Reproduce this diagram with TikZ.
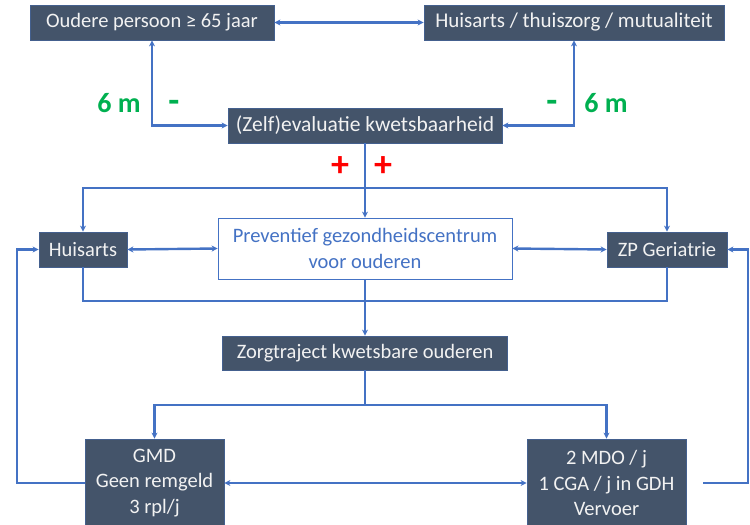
\documentclass[tikz,border=0pt]{standalone}
\usepackage{fontspec}
\setmainfont{Carlito}
\usetikzlibrary{arrows.meta,calc}
\definecolor{boxdark}{HTML}{44546A}
\definecolor{lineblue}{HTML}{4472C4}
\definecolor{grn}{HTML}{00B050}
\definecolor{rd}{HTML}{FF0000}
\begin{document}
\begin{tikzpicture}[x=1pt,y=-1pt,
  darkbox/.style={draw=lineblue!40!boxdark,line width=0.8pt,fill=boxdark,text=white!95!black,inner sep=0pt,font=\fontsize{20.5}{25.5}\selectfont,align=center},
  lightbox/.style={draw=lineblue,line width=0.8pt,fill=white,text=lineblue,inner sep=0pt,font=\fontsize{20.5}{26}\selectfont,align=center},
  conn/.style={draw=lineblue,line width=2.4pt},
  tip/.style={-{Stealth[length=6pt,width=6pt]}},
  tips/.style={{Stealth[length=6pt,width=6pt]}-{Stealth[length=6pt,width=6pt]}},
  lbl/.style={font=\fontsize{28}{30}\selectfont\bfseries,text=grn},
  minus/.style={font=\fontsize{36}{38}\selectfont\bfseries,text=grn},
  plus/.style={font=\fontsize{36}{38}\selectfont\bfseries,text=rd}
]
\useasboundingbox (0,0) rectangle (750,525);
\node[darkbox,minimum width=244pt,minimum height=35pt] (oud) at (152,22.5) {Oudere persoon ≥ 65 jaar};
\node[darkbox,minimum width=300pt,minimum height=35pt,font=\fontsize{21}{24}\selectfont] (hat) at (574,22.5) {Huisarts / thuiszorg / mutualiteit};
\node[darkbox,minimum width=274pt,minimum height=35pt,font=\fontsize{21.5}{24}\selectfont] (zelf) at (365,125.5) {(Zelf)evaluatie kwetsbaarheid};
\node[darkbox,minimum width=88pt,minimum height=35pt] (ha) at (83,249.5) {Huisarts};
\node[lightbox,minimum width=294pt,minimum height=61pt] (prev) at (365,248.5) {Preventief gezondheidscentrum\\voor ouderen};
\node[darkbox,minimum width=120pt,minimum height=35pt] (zp) at (667,249.5) {ZP Geriatrie};
\node[darkbox,minimum width=285pt,minimum height=34pt] (zorg) at (365,353) {Zorgtraject kwetsbare ouderen};
\node[darkbox,minimum width=139pt,minimum height=88pt] (gmd) at (154.5,483) {GMD\\Geen remgeld\\3 rpl/j};
\node[darkbox,minimum width=159pt,minimum height=88pt] (mdo) at (606.5,483) {2 MDO / j\\1 CGA / j in GDH\\Vervoer};

\coordinate (j1) at (365,188);
\coordinate (j2) at (365,301);
\coordinate (j3) at (365,405);
\coordinate (lA) at (17,483);
\coordinate (rA) at (703,483);
\coordinate (rB) at (748,483);

\draw[conn,tips] (oud.east) -- (hat.west);
\draw[conn,tips] (oud.south) |- (zelf.west);
\draw[conn,tips] (hat.south) |- (zelf.east);
\draw[conn] (zelf.south) -- (j1);
\draw[conn,tip] (j1) -| (ha.north);
\draw[conn,tip] (j1) -| (zp.north);
\draw[conn,tip] (j1) -- (prev.north);
\draw[conn,tips] (ha.east) -- (prev.west);
\draw[conn,tips] (prev.east) -- (zp.west);
\draw[conn] (ha.south) |- (j2) -| (zp.south);
\draw[conn,tip] (prev.south) -- (zorg.north);
\draw[conn] (zorg.south) -- (j3);
\draw[conn,tip] (j3) -| (gmd.north);
\draw[conn,tip] (j3) -| (mdo.north);
\draw[conn,tips] (gmd.east) -- (mdo.west);
\draw[conn,tip] (gmd.west) -- (lA) |- (ha.west);
\draw[conn,tip] (rA) -- (rB) |- (zp.east);

\node[lbl] (l6m) at (119,103) {6 m};
\node[minus] (lmin) at (174,106) {-};
\node[minus] (rmin) at (552,106) {-};
\node[lbl] (r6m) at (606,103) {6 m};
\node[plus] (p1) at (340,167) {+};
\node[plus] (p2) at (383,167) {+};
\end{tikzpicture}
\end{document}
